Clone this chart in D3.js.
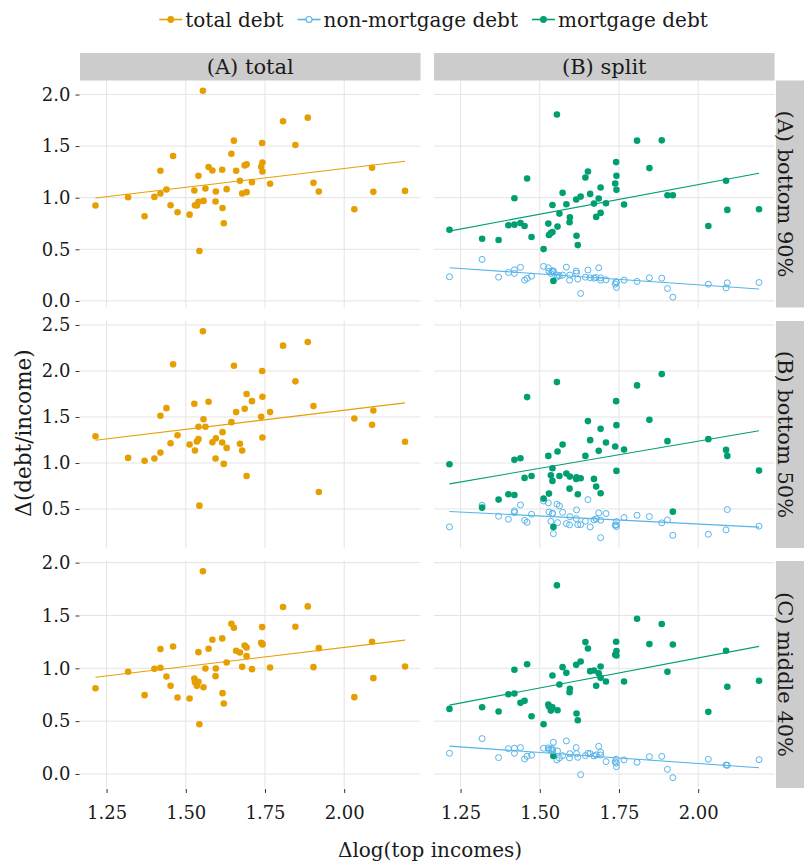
<!DOCTYPE html>
<html><head><meta charset="utf-8">
<script src="https://cdn.jsdelivr.net/npm/d3@7"></script>
<style>body{margin:0;background:#fff}svg{display:block}text{font-family:"DejaVu Serif",serif;fill:#1a1a1a}</style>
</head><body>
<script>
// ---------- data ----------
const xIncome = [1.215,1.318,1.370,1.401,1.420,1.420,1.439,1.452,1.460,1.474,1.512,1.527,1.529,1.535,1.540,1.540,1.543,1.554,1.556,1.562,1.572,1.584,1.594,1.595,1.615,1.616,1.620,1.629,1.644,1.652,1.659,1.671,1.678,1.686,1.692,1.692,1.709,1.738,1.741,1.742,1.742,1.766,1.807,1.846,1.885,1.903,1.920,2.032,2.088,2.092,2.192];

const totalBottom90 = [0.924,1.005,0.820,1.008,1.261,1.041,1.080,0.927,1.404,0.859,0.836,1.070,0.927,0.924,1.212,0.960,0.483,2.036,0.969,1.089,1.297,1.264,0.963,1.060,1.271,0.901,0.752,1.083,1.426,1.553,1.261,1.164,1.041,1.313,1.323,1.054,1.151,1.300,1.530,1.342,1.254,1.135,1.741,1.511,1.776,1.144,1.060,0.888,1.290,1.057,1.066];
const mortBottom90 = [0.690,0.603,0.590,0.733,0.995,0.739,0.755,0.726,1.186,0.619,0.502,0.749,0.639,0.658,0.930,0.668,0.194,1.806,0.720,0.846,1.047,0.937,0.762,0.810,0.982,0.632,0.541,1.011,1.196,1.254,1.037,0.943,0.814,0.992,1.099,0.853,0.947,1.138,1.345,1.212,1.076,0.934,1.553,1.287,1.556,1.024,1.024,0.726,1.164,0.882,0.888];
const nonMortBottom90 = [0.234,0.402,0.230,0.275,0.266,0.302,0.325,0.201,0.218,0.240,0.334,0.321,0.288,0.266,0.282,0.292,0.289,0.230,0.249,0.243,0.250,0.327,0.201,0.250,0.289,0.269,0.211,0.072,0.230,0.299,0.224,0.221,0.227,0.321,0.224,0.201,0.204,0.162,0.185,0.130,0.178,0.201,0.188,0.224,0.220,0.120,0.036,0.162,0.126,0.175,0.178];

const totalBottom50 = [1.291,1.055,1.023,1.048,1.513,1.113,1.596,1.215,2.072,1.302,1.200,1.643,1.135,1.233,1.393,1.259,0.536,2.431,1.476,1.393,1.665,1.226,1.048,1.269,1.222,1.335,0.990,1.164,1.444,2.057,1.553,1.208,1.135,1.589,1.749,0.859,1.672,1.502,1.999,1.720,1.277,1.553,2.275,1.887,2.315,1.618,0.685,1.484,1.415,1.571,1.230];
const mortBottom50 = [0.986,0.515,0.602,0.660,1.034,0.652,1.052,0.838,1.716,0.859,0.613,1.077,0.667,0.867,0.943,0.805,0.304,1.879,1.124,0.859,1.201,0.885,0.721,0.852,0.827,0.845,0.660,0.834,1.077,1.455,1.248,0.827,0.743,1.132,1.371,0.671,1.222,1.179,1.672,1.411,0.914,1.146,1.843,1.469,1.966,1.237,0.471,1.259,1.142,1.077,0.917];
const nonMortBottom50 = [0.305,0.540,0.421,0.388,0.479,0.461,0.544,0.377,0.356,0.443,0.587,0.566,0.468,0.366,0.450,0.454,0.232,0.552,0.352,0.534,0.464,0.341,0.327,0.417,0.395,0.490,0.330,0.330,0.367,0.602,0.305,0.381,0.392,0.457,0.378,0.188,0.450,0.323,0.327,0.309,0.363,0.407,0.432,0.418,0.349,0.381,0.214,0.225,0.273,0.494,0.313];

const totalMiddle40 = [0.812,0.967,0.746,0.995,1.182,1.005,0.923,0.834,1.207,0.724,0.714,0.904,0.869,0.834,1.153,0.872,0.471,1.918,0.821,0.998,1.185,1.270,0.926,0.998,1.283,0.765,0.667,1.055,1.422,1.384,1.166,1.150,1.014,1.216,1.197,1.115,0.992,1.242,1.390,1.232,1.225,1.008,1.580,1.393,1.586,1.011,1.191,0.727,1.251,0.907,1.017];
const mortMiddle40 = [0.616,0.632,0.591,0.755,0.986,0.761,0.673,0.692,1.039,0.547,0.471,0.657,0.638,0.600,0.932,0.632,0.171,1.785,0.603,0.847,1.011,0.957,0.774,0.806,1.033,0.572,0.509,1.065,1.248,1.188,0.973,0.979,0.834,0.954,1.017,0.910,0.875,1.128,1.251,1.163,1.122,0.875,1.469,1.229,1.419,0.967,1.226,0.588,1.166,0.825,0.882];
const nonMortMiddle40 = [0.196,0.335,0.155,0.240,0.196,0.244,0.250,0.142,0.168,0.177,0.243,0.247,0.231,0.234,0.221,0.240,0.300,0.133,0.218,0.151,0.174,0.313,0.152,0.192,0.250,0.193,0.158,-0.006,0.174,0.196,0.193,0.171,0.180,0.262,0.180,0.205,0.117,0.114,0.139,0.069,0.103,0.133,0.111,0.164,0.167,0.044,-0.035,0.139,0.085,0.082,0.135];

const rowLabels = ["(A) bottom 90%","(B) bottom 50%","(C) middle 40%"];
const colLabels = ["(A) total","(B) split"];
const seriesNames = ["total debt","non-mortgage debt","mortgage debt"];
const xTickValues = [1.25,1.50,1.75,2.00];
const yTickValues = [[0,0.5,1,1.5,2],[0.5,1,1.5,2,2.5],[0,0.5,1,1.5,2]];

const rowsData = [
  {total: totalBottom90, mort: mortBottom90, nonMort: nonMortBottom90},
  {total: totalBottom50, mort: mortBottom50, nonMort: nonMortBottom50},
  {total: totalMiddle40, mort: mortMiddle40, nonMort: nonMortMiddle40}
];

// ---------- style / layout ----------
const colors = {total:"#E69F00", nonMort:"#56B4E9", mort:"#009E73"};
const W = 804, H = 864;
const colX = [[80, 420.5],[434, 774.5]];
const rowTop = [80.5, 321, 561], rowH = 227;
const gridColor = "#e4e4e4";

const svg = d3.select("body").append("svg").attr("width", W).attr("height", H);

function expand(ext, f){ const d = ext[1]-ext[0]; return [ext[0]-d*f, ext[1]+d*f]; }
const xDomain = expand(d3.extent(xIncome), 0.05);
const xScales = colX.map(r => d3.scaleLinear().domain(xDomain).range(r));

function ols(xs, ys){
  const mx = d3.mean(xs), my = d3.mean(ys);
  let sxy = 0, sxx = 0;
  xs.forEach((x,i)=>{ sxy += (x-mx)*(ys[i]-my); sxx += (x-mx)*(x-mx); });
  const b = sxy/sxx; return {b, a: my - b*mx};
}

rowsData.forEach((rd, r) => {
  const all = rd.total.concat(rd.mort, rd.nonMort);
  const y = d3.scaleLinear().domain(expand(d3.extent(all), 0.05)).range([rowTop[r]+rowH, rowTop[r]]);
  [0,1].forEach(c => {
    const x = xScales[c];
    const g = svg.append("g");
    g.append("rect").attr("x", colX[c][0]).attr("y", rowTop[r]).attr("width", colX[c][1]-colX[c][0]).attr("height", rowH).attr("fill","#fff");
    g.selectAll(".gv").data(xTickValues).join("line")
      .attr("x1", d=>x(d)).attr("x2", d=>x(d)).attr("y1", rowTop[r]).attr("y2", rowTop[r]+rowH)
      .attr("stroke", gridColor).attr("stroke-width", 1);
    g.selectAll(".gh").data(yTickValues[r]).join("line")
      .attr("x1", colX[c][0]).attr("x2", colX[c][1]).attr("y1", d=>y(d)).attr("y2", d=>y(d))
      .attr("stroke", gridColor).attr("stroke-width", 1);

    const series = c === 0 ? [{key:"total", vals: rd.total, fill:true}] :
      [{key:"nonMort", vals: rd.nonMort, fill:false},{key:"mort", vals: rd.mort, fill:true}];
    series.forEach(s => {
      g.append("g").selectAll("circle").data(xIncome.map((xv,i)=>[xv, s.vals[i]])).join("circle")
        .attr("cx", d=>x(d[0])).attr("cy", d=>y(d[1]))
        .attr("r", s.fill ? 3.3 : 3.0)
        .attr("fill", s.fill ? colors[s.key] : "none")
        .attr("stroke", colors[s.key]).attr("stroke-width", s.fill ? 0 : 1);
    });
    series.forEach(s => {
      const fit = ols(xIncome, s.vals);
      const ext = d3.extent(xIncome);
      g.append("line")
        .attr("x1", x(ext[0])).attr("y1", y(fit.a + fit.b*ext[0]))
        .attr("x2", x(ext[1])).attr("y2", y(fit.a + fit.b*ext[1]))
        .attr("stroke", colors[s.key]).attr("stroke-width", 1.1);
    });
  });

  const ay = svg.append("g").attr("transform", `translate(79.5,0)`)
    .call(d3.axisLeft(y).tickValues(yTickValues[r]).tickFormat(d3.format(".1f")).tickSize(4).tickPadding(5));
  ay.select(".domain").remove();
  ay.selectAll(".tick line").attr("stroke", "#333");
  ay.selectAll(".tick text").attr("font-family", "DejaVu Serif").attr("font-size", 18).attr("fill", "#1a1a1a");

  const sx = 776;
  svg.append("rect").attr("x", sx).attr("y", rowTop[r]).attr("width", 40).attr("height", rowH).attr("fill", "#cccccc");
  svg.append("text").attr("transform", `translate(${sx+9},${rowTop[r]+rowH/2}) rotate(90)`)
    .attr("text-anchor","middle").attr("dy","0.35em").attr("font-size", 21).text(rowLabels[r]);
});

[0,1].forEach(c => {
  const ax = svg.append("g").attr("transform", `translate(0,${rowTop[2]+rowH+1})`)
    .call(d3.axisBottom(xScales[c]).tickValues(xTickValues).tickFormat(d3.format(".2f")).tickSize(4).tickPadding(13));
  ax.select(".domain").remove();
  ax.selectAll(".tick line").attr("stroke", "#333");
  ax.selectAll(".tick text").attr("font-family", "DejaVu Serif").attr("font-size", 18).attr("fill", "#1a1a1a");
});

[0,1].forEach(c => {
  svg.append("rect").attr("x", colX[c][0]).attr("y", 53).attr("width", colX[c][1]-colX[c][0]).attr("height", 27.5).attr("fill", "#cccccc");
  svg.append("text").attr("x", (colX[c][0]+colX[c][1])/2).attr("y", 67).attr("dy","0.35em")
    .attr("text-anchor","middle").attr("font-size", 21).text(colLabels[c]);
});

svg.append("text").attr("x", 430).attr("y", 857).attr("text-anchor","middle").attr("font-size", 20).text("Δlog(top incomes)");
svg.append("text").attr("transform", "translate(23,433) rotate(-90)").attr("text-anchor","middle").attr("dy","0.35em").attr("font-size", 21.5).text("Δ(debt/income)");

const legKeys = ["total","nonMort","mort"];
const lg = svg.append("g");
let cx = 0;
legKeys.forEach((k,i) => {
  const item = lg.append("g").attr("transform", `translate(${cx},0)`);
  item.append("line").attr("x1",0).attr("x2",23).attr("y1",19.5).attr("y2",19.5).attr("stroke", colors[k]).attr("stroke-width",1.6);
  item.append("circle").attr("cx",11.5).attr("cy",19.5).attr("r", k==="nonMort"?3:3.4)
    .attr("fill", k==="nonMort" ? "#fff" : colors[k]).attr("stroke", colors[k]).attr("stroke-width", k==="nonMort"?1.1:0);
  const t = item.append("text").attr("x", 26).attr("y", 27).attr("font-size", 20).text(seriesNames[i]);
  cx += 26 + t.node().getComputedTextLength() + 14;
});
const legW = cx - 14;
lg.attr("transform", `translate(${433.5 - legW/2},0)`);
</script>
</body></html>
